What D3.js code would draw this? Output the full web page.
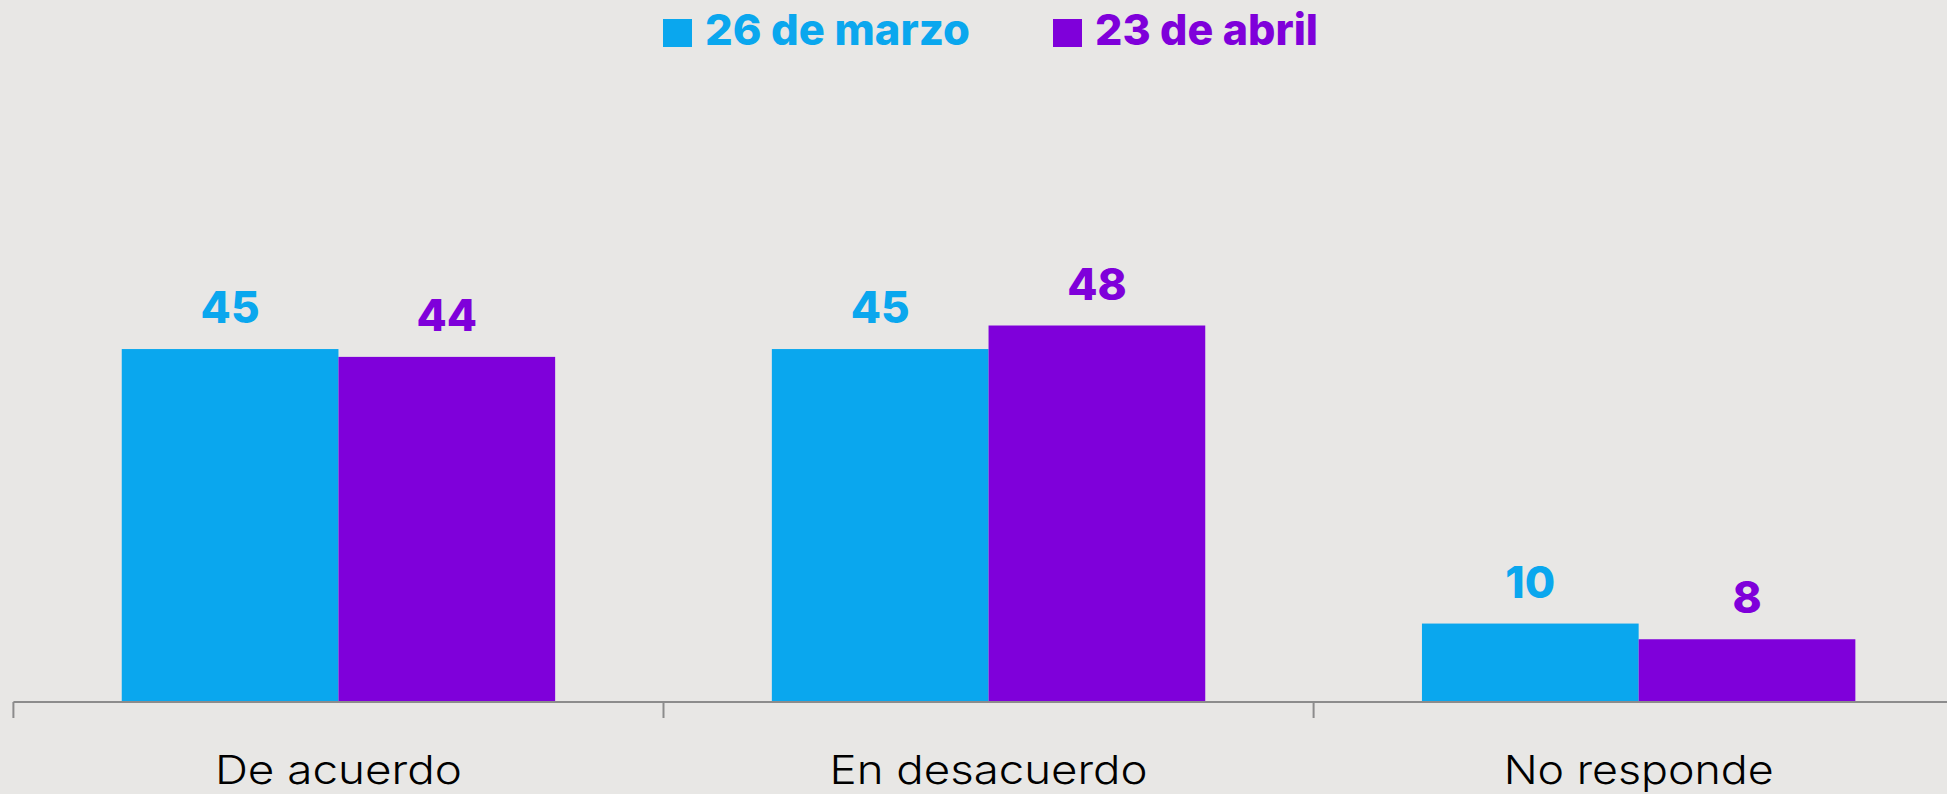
<!DOCTYPE html>
<html>
<head>
<meta charset="utf-8">
<script src="https://cdn.jsdelivr.net/npm/d3@7"></script>
<style>
  html, body { margin: 0; padding: 0; background: #e8e7e5; }
  svg { display: block; }
</style>
</head>
<body>
<div id="graph"></div>
<script>
var categories = ['De acuerdo', 'En desacuerdo', 'No responde'];
var seriesNames = ['26 de marzo', '23 de abril'];
var marzo = [45, 45, 10];
var abril = [44, 48, 8];

var colors = ['#0aa7ee', '#7f00da'];
var values = [marzo, abril];

var width = 1947,
    height = 794,
    baseline = 702;

var svg = d3.select('#graph')
    .append('svg')
        .attr('width', width)
        .attr('height', height)
        .style('background', '#e8e7e5');

var x = d3.scaleBand()
    .domain(categories)
    .range([13.4, 13.4 + 650.1 * 3]);

var xInner = d3.scaleBand()
    .domain(seriesNames)
    .range([0, x.bandwidth()])
    .paddingOuter(0.5);

var y = d3.scaleLinear()
    .domain([0, 89.5])
    .range([baseline, 0]);

// bars ------------------------------------------------------------------
seriesNames.forEach(function(s, si) {
    var g = svg.append('g');
    g.selectAll('rect')
        .data(categories).enter().append('rect')
        .attr('x', function(d) { return x(d) + xInner(s); })
        .attr('y', function(d, i) { return y(values[si][i]); })
        .attr('width', xInner.bandwidth())
        .attr('height', function(d, i) { return baseline - y(values[si][i]); })
        .style('fill', colors[si]);

    g.selectAll('text')
        .data(categories).enter().append('text')
        .attr('x', function(d) { return x(d) + xInner(s) + xInner.bandwidth() / 2; })
        .attr('y', function(d, i) { return y(values[si][i]) - 26; })
        .attr('text-anchor', 'middle')
        .style('font-family', 'Inter, sans-serif')
        .style('font-weight', 800)
        .style('font-size', '44px')
        .style('fill', colors[si])
        .text(function(d, i) { return values[si][i]; });
});

// axis ------------------------------------------------------------------
var axis = svg.append('g');
axis.append('line')
    .attr('x1', x.range()[0])
    .attr('x2', width)
    .attr('y1', baseline)
    .attr('y2', baseline)
    .style('stroke', '#8c8c8c')
    .style('stroke-width', 2);
axis.selectAll('.tick')
    .data(categories).enter().append('line')
    .attr('x1', function(d) { return x(d); })
    .attr('x2', function(d) { return x(d); })
    .attr('y1', baseline)
    .attr('y2', baseline + 16)
    .style('stroke', '#8c8c8c')
    .style('stroke-width', 2);

var labelWidths = [247, 318, 270];
axis.selectAll('.label')
    .data(categories).enter().append('text')
    .attr('x', function(d) { return x(d) + x.bandwidth() / 2; })
    .attr('y', 784)
    .attr('text-anchor', 'middle')
    .attr('textLength', function(d, i) { return labelWidths[i]; })
    .attr('lengthAdjust', 'spacingAndGlyphs')
    .style('font-family', 'Inter, sans-serif')
    .style('font-weight', 300)
    .style('font-size', '40px')
    .style('fill', '#000')
    .text(function(d) { return d; });

// LEGEND ----------------------------------------------------------------
var legendX = [663, 1053];
var legendTextW = [265, 223];
var legend = svg.append('g');
legend.selectAll('rect')
    .data(seriesNames).enter().append('rect')
    .attr('x', function(d, i) { return legendX[i]; })
    .attr('y', 19)
    .attr('width', 29)
    .attr('height', 28)
    .style('fill', function(d, i) { return colors[i]; });
legend.selectAll('text')
    .data(seriesNames).enter().append('text')
    .attr('x', function(d, i) { return legendX[i] + 42; })
    .attr('y', 45)
    .attr('textLength', function(d, i) { return legendTextW[i]; })
    .attr('lengthAdjust', 'spacingAndGlyphs')
    .style('font-family', 'Inter, sans-serif')
    .style('font-weight', 800)
    .style('font-size', '43px')
    .style('fill', function(d, i) { return colors[i]; })
    .text(function(d) { return d; });
</script>
</body>
</html>
